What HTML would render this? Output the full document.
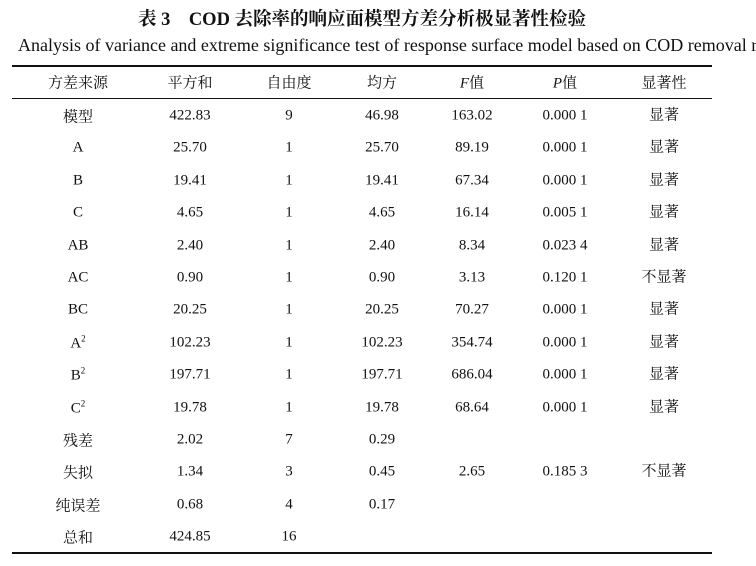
<!DOCTYPE html>
<html><head><meta charset="utf-8"><style>
body{margin:0;width:756px;height:566px;background:#fff;overflow:hidden;position:relative;font-family:"Liberation Serif","Noto Serif CJK SC","Noto Sans CJK SC",serif;color:#111}
.t{position:absolute;white-space:nowrap;transform:translate(-50%,-50%);font-size:15px}
.r{position:absolute;left:12px;width:700px;background:#111}
</style></head><body>
<div class="t" style="left:362px;top:18px;font-size:18.5px;font-weight:bold">表 3　COD 去除率的响应面模型方差分析极显著性检验</div>
<div style="position:absolute;left:18px;top:35px;font-size:18px;white-space:nowrap">Analysis of variance and extreme significance test of response surface model based on COD removal rate</div>
<div class="r" style="top:65px;height:2px"></div>
<div class="r" style="top:98px;height:1px"></div>
<div class="r" style="top:552px;height:2px"></div>
<div id="c"></div>
<script>
var rows=[["方差来源","平方和","自由度","均方","<i>F</i>值","<i>P</i>值","显著性"],
["模型","422.83","9","46.98","163.02","0.000 1","显著"],
["A","25.70","1","25.70","89.19","0.000 1","显著"],
["B","19.41","1","19.41","67.34","0.000 1","显著"],
["C","4.65","1","4.65","16.14","0.005 1","显著"],
["AB","2.40","1","2.40","8.34","0.023 4","显著"],
["AC","0.90","1","0.90","3.13","0.120 1","不显著"],
["BC","20.25","1","20.25","70.27","0.000 1","显著"],
["A<sup style='font-size:9px'>2</sup>","102.23","1","102.23","354.74","0.000 1","显著"],
["B<sup style='font-size:9px'>2</sup>","197.71","1","197.71","686.04","0.000 1","显著"],
["C<sup style='font-size:9px'>2</sup>","19.78","1","19.78","68.64","0.000 1","显著"],
["残差","2.02","7","0.29","","",""],
["失拟","1.34","3","0.45","2.65","0.185 3","不显著"],
["纯误差","0.68","4","0.17","","",""],
["总和","424.85","16","","","",""]];
var xs=[78,190,289,382,472,565,664],h="";
rows.forEach(function(r,i){var y=i==0?82:116+(i-1)*32.4;r.forEach(function(t,j){if(t){var yy=y+(j==6&&i>0?-2:0);h+='<div class="t" style="left:'+xs[j]+'px;top:'+yy+'px">'+t+'</div>';}});});
document.getElementById("c").innerHTML=h;
</script>
</body></html>
